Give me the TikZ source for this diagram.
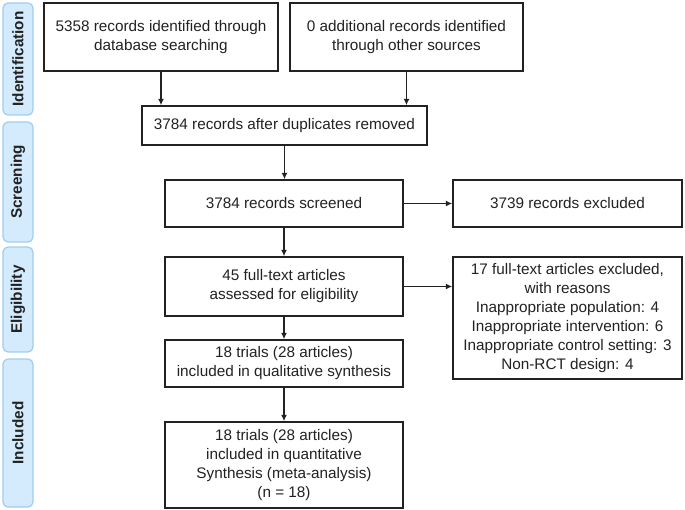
\documentclass[tikz,border=0pt]{standalone}
\usepackage{fontspec}
\setmainfont{Liberation Sans}
\usetikzlibrary{arrows.meta}
\definecolor{barfill}{HTML}{D3EBFC}
\definecolor{bardraw}{HTML}{9FCDF2}
\definecolor{ink}{HTML}{222222}
\tikzset{
  box/.style={draw=ink, line width=1.4pt, fill=white, align=center, inner sep=2pt,
    font=\fontsize{15.3pt}{19pt}\selectfont, text=ink},
  phase/.style={draw=bardraw, fill=barfill, line width=1.2pt, rounded corners=5pt,
    minimum width=30pt, inner sep=0pt},
  phaselabel/.style={rotate=90, font=\fontsize{15.3pt}{19pt}\selectfont\bfseries, text=ink},
  arr/.style={draw=ink, line width=1.4pt, -{Latex[length=6.5pt,width=6pt]}}
}
\begin{document}
\begin{tikzpicture}[x=1pt,y=-1pt]
\useasboundingbox (0,0) rectangle (685,510);
% phase bars
\node[phase, minimum height=112pt] (p1) at (18,59) {};
\node[phaselabel] (l1) at (p1.center) {Identification};
\node[phase, minimum height=120pt] (p2) at (18,182) {};
\node[phaselabel] (l2) at (p2.center) {Screening};
\node[phase, minimum height=105pt] (p3) at (18,299.5) {};
\node[phaselabel] (l3) at (p3.center) {Eligibility};
\node[phase, minimum height=148pt] (p4) at (18,433) {};
\node[phaselabel] (l4) at (p4.center) {Included};
% boxes
\node[box, minimum width=234pt, minimum height=68pt] (A) at (161,37) {5358 records identified through\\database searching};
\node[box, minimum width=233pt, minimum height=68pt] (B) at (406.5,37) {0 additional records identified\\through other sources};
\node[box, minimum width=285pt, minimum height=39pt] (C) at (284.5,125.5) {3784 records after duplicates removed};
\node[box, minimum width=238pt, minimum height=47pt] (D) at (284,203.5) {3784 records screened};
\node[box, minimum width=229pt, minimum height=47pt] (E) at (567.5,203.5) {3739 records excluded};
\node[box, minimum width=238pt, minimum height=59pt] (F) at (284,286.5) {45 full-text articles\\assessed for eligibility};
\node[box, minimum width=229pt, minimum height=122pt] (G) at (567.5,318) {17 full-text articles excluded,\\with reasons\\Inappropriate population: 4\\Inappropriate intervention: 6\\Inappropriate control setting: 3\\Non-RCT design: 4};
\node[box, minimum width=238pt, minimum height=47pt] (H) at (284,363.5) {18 trials (28 articles)\\included in qualitative synthesis};
\node[box, minimum width=238pt, minimum height=86pt] (I) at (284,465) {18 trials (28 articles)\\included in quantitative\\Synthesis (meta-analysis)\\(n = 18)};
% arrows
\draw[arr] (A.south) -- (A.south |- C.north);
\draw[arr] (B.south) -- (B.south |- C.north);
\draw[arr] (C.south) -- (C.south |- D.north);
\draw[arr] (D.east) -- (E.west |- D.east);
\draw[arr] (D.south) -- (F.north);
\draw[arr] (F.east) -- (G.west |- F.east);
\draw[arr] (F.south) -- (H.north);
\draw[arr] (H.south) -- (I.north);
\end{tikzpicture}
\end{document}
